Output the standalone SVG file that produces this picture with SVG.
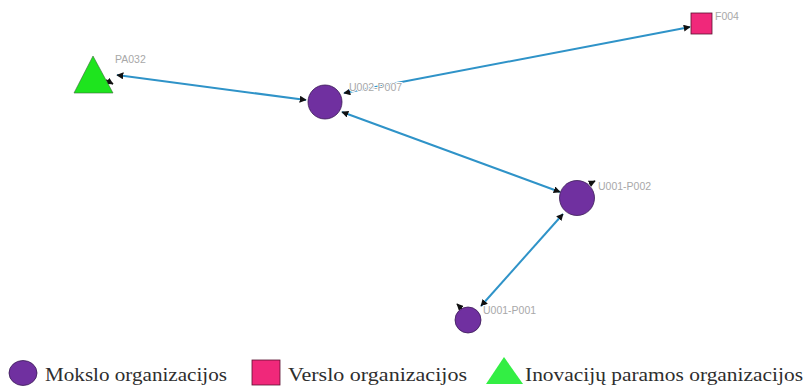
<svg xmlns="http://www.w3.org/2000/svg" width="805" height="386" viewBox="0 0 805 386">
  <defs>
    <marker id="head" viewBox="0 0 10 10" refX="9" refY="5" markerWidth="7" markerHeight="7" markerUnits="userSpaceOnUse" orient="auto-start-reverse">
      <path d="M0,0 L10,5 L0,10 z" fill="#111"/>
    </marker>
    <style>
      .edge { stroke: #2f93c8; stroke-width: 2; fill: none; marker-start: url(#head); marker-end: url(#head); }
      .stub { stroke: #111; stroke-width: 1.5; fill: none; marker-end: url(#head); }
      .sci { fill: #7030a0; stroke: #3a1a55; stroke-width: 0.8; }
      .biz { fill: #f0287a; stroke: #5a1030; stroke-width: 0.8; }
      .inn { fill: #1ee41e; stroke: #3a6a3a; stroke-width: 0.6; }
      .lbl { font-family: "Liberation Sans", Arial, sans-serif; font-size: 10.5px; fill: #a8a8a8; stroke: #fff; stroke-width: 2px; paint-order: stroke; stroke-linejoin: round; }
      .leg { font-family: "Liberation Serif", "Times New Roman", serif; font-size: 19px; fill: #2e2e2e; }
    </style>
  </defs>

  <rect width="805" height="386" fill="#fff"/>

  <!-- connectors -->
  <g id="edges">
    <line class="edge" x1="117" y1="75" x2="306" y2="100"/>
    <line class="edge" x1="344" y1="93" x2="690" y2="27"/>
    <line class="edge" x1="342" y1="112" x2="560" y2="192"/>
    <line class="edge" x1="481" y1="306" x2="563" y2="214"/>
    <!-- loop ends -->
    <line class="stub" x1="106" y1="80" x2="113" y2="84"/>
    <line class="stub" x1="589" y1="184" x2="595" y2="181"/>
    <line class="stub" x1="462" y1="309" x2="457" y2="304"/>
  </g>

  <!-- nodes -->
  <g id="PA032">
    <polygon class="inn" points="93,56 113,93 74,93"/>
    <text class="lbl" x="115" y="63">PA032</text>
  </g>
  <g id="U002-P007">
    <circle class="sci" cx="325" cy="102" r="17"/>
    <text class="lbl" x="349" y="91">U002-P007</text>
  </g>
  <g id="F004">
    <rect class="biz" x="691" y="13" width="21" height="21"/>
    <text class="lbl" x="715" y="20">F004</text>
  </g>
  <g id="U001-P002">
    <circle class="sci" cx="577" cy="198" r="17.5"/>
    <text class="lbl" x="598" y="190">U001-P002</text>
  </g>
  <g id="U001-P001">
    <circle class="sci" cx="468" cy="320" r="13"/>
    <text class="lbl" x="483" y="314">U001-P001</text>
  </g>

  <!-- legend -->
  <g id="legend">
    <ellipse class="sci" cx="23" cy="373" rx="14" ry="12.5"/>
    <text class="leg" x="45" y="381" textLength="182" lengthAdjust="spacingAndGlyphs">Mokslo organizacijos</text>
    <rect class="biz" x="252" y="360" width="28" height="25"/>
    <text class="leg" x="288" y="381" textLength="179" lengthAdjust="spacingAndGlyphs">Verslo organizacijos</text>
    <polygon points="504,357 523,384 486,384" fill="#33ee44"/>
    <text class="leg" x="525" y="381" textLength="278" lengthAdjust="spacingAndGlyphs">Inovacijų paramos organizacijos</text>
  </g>
</svg>
